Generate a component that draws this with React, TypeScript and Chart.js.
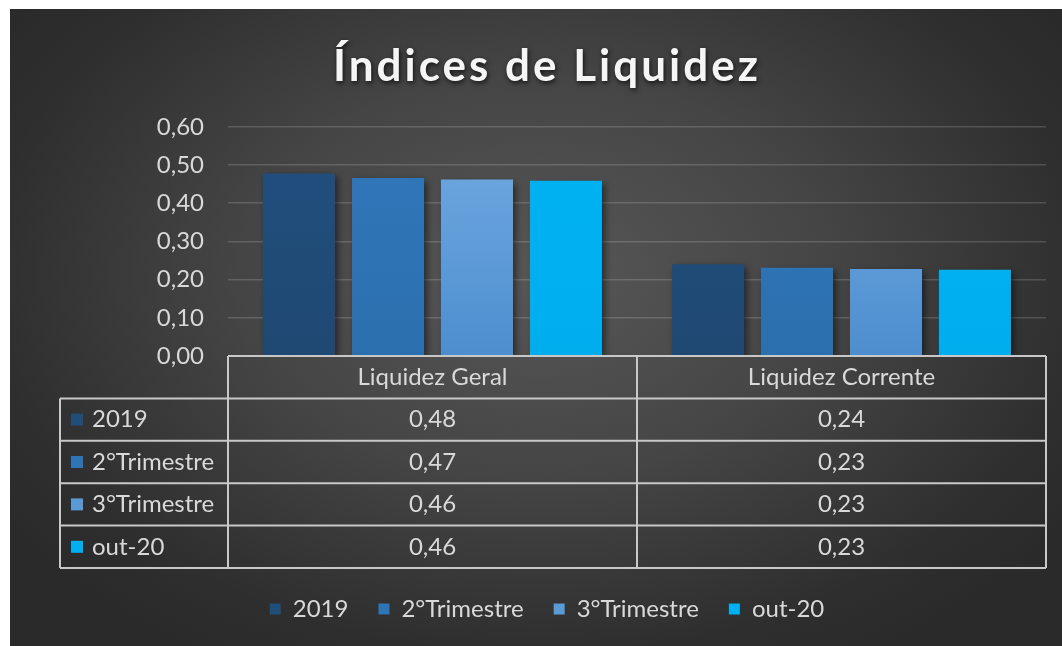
import React, { useEffect, useRef } from "react";
import { Chart, registerables } from "chart.js";

Chart.register(...registerables);

const categories = ["Liquidez Geral", "Liquidez Corrente"];
const seriesNames = ["2019", "2°Trimestre", "3°Trimestre", "out-20"];
const values2019 = [0.478, 0.24];
const valuesTri2 = [0.466, 0.231];
const valuesTri3 = [0.462, 0.228];
const valuesOut20 = [0.459, 0.226];
const yTickValues = [0, 0.1, 0.2, 0.3, 0.4, 0.5, 0.6];

const seriesValues = [values2019, valuesTri2, valuesTri3, valuesOut20];
const seriesTop = ["#21507f", "#3078bb", "#72aae2", "#00b2f2"];
const seriesBottom = ["#1f4872", "#2c6fae", "#4d8ecf", "#00aeee"];
const legendColors = ["#1f4e79", "#2e75b6", "#5b9bd5", "#00b0f0"];

const FONT = "Lato, 'Open Sans', sans-serif";
const TEXT = "#d9d9d9";
const fmt = (v: number) => v.toFixed(2).replace(".", ",");

const ROW_H = 42.4;
const TABLE_ROWS = 5;
const LEFT_COL_X = 50;
const PAD_LEFT = 38;
const CANVAS_W = 1052;
const CANVAS_H = 637;

const titleStylePlugin = {
  id: "titleStyle",
  beforeDraw(chart: any) {
    const block = chart.titleBlock;
    if (!block || block._styled) return;
    const orig = block.draw.bind(block);
    block.draw = (...args: any[]) => {
      const ctx = chart.ctx;
      ctx.save();
      (ctx as any).letterSpacing = "3px";
      ctx.shadowColor = "rgba(0,0,0,0.75)";
      ctx.shadowBlur = 5;
      ctx.shadowOffsetX = 1;
      ctx.shadowOffsetY = 2;
      orig(...args);
      ctx.restore();
    };
    block._styled = true;
  },
};

const tablePlugin = {
  id: "dataTable",
  beforeDatasetsDraw(chart: any) {
    const ctx = chart.ctx;
    ctx.save();
    ctx.shadowColor = "rgba(0,0,0,0.55)";
    ctx.shadowBlur = 7;
    ctx.shadowOffsetX = 3;
    ctx.shadowOffsetY = 3;
  },
  afterDatasetsDraw(chart: any) {
    chart.ctx.restore();
  },
  afterDraw(chart: any) {
    const ctx = chart.ctx;
    const xs = chart.scales.x;
    const area = chart.chartArea;
    const top = area.bottom;
    const left = area.left;
    const right = area.right;
    const mid = (xs.getPixelForValue(0) + xs.getPixelForValue(1)) / 2;
    const bottom = top + ROW_H * TABLE_ROWS;
    ctx.save();
    ctx.strokeStyle = "#c8c8c8";
    ctx.lineWidth = 2;
    ctx.beginPath();
    ctx.moveTo(left, top);
    ctx.lineTo(right, top);
    ctx.moveTo(left, top);
    ctx.lineTo(left, bottom);
    ctx.moveTo(right, top);
    ctx.lineTo(right, bottom);
    ctx.moveTo(mid, top);
    ctx.lineTo(mid, bottom);
    for (let r = 1; r <= TABLE_ROWS; r++) {
      const y = top + r * ROW_H;
      ctx.moveTo(LEFT_COL_X, y);
      ctx.lineTo(right, y);
    }
    ctx.moveTo(LEFT_COL_X, top + ROW_H);
    ctx.lineTo(LEFT_COL_X, bottom);
    ctx.stroke();

    ctx.font = `24px ${FONT}`;
    ctx.fillStyle = TEXT;
    ctx.textBaseline = "middle";
    ctx.textAlign = "center";
    categories.forEach((c, i) => {
      const cx = xs.getPixelForValue(i);
      ctx.fillText(c, cx, top + ROW_H / 2);
    });
    seriesNames.forEach((name, s) => {
      const cy = top + ROW_H * (s + 1) + ROW_H / 2;
      ctx.fillStyle = legendColors[s];
      ctx.fillRect(LEFT_COL_X + 11, cy - 6, 12, 12);
      ctx.fillStyle = TEXT;
      ctx.textAlign = "left";
      ctx.fillText(name, LEFT_COL_X + 32, cy);
      ctx.textAlign = "center";
      categories.forEach((_, i) => {
        ctx.fillText(fmt(seriesValues[s][i]), xs.getPixelForValue(i), cy);
      });
    });
    ctx.restore();
  },
};

export default function App() {
  const ref = useRef<HTMLCanvasElement>(null);
  useEffect(() => {
    if (!ref.current) return;
    const makeGrad = (s: number) => (c: any) => {
      const a = c.chart.chartArea;
      if (!a) return seriesTop[s];
      const g = c.chart.ctx.createLinearGradient(0, a.top, 0, a.bottom);
      g.addColorStop(0, seriesTop[s]);
      g.addColorStop(1, seriesBottom[s]);
      return g;
    };
    const chart = new Chart(ref.current, {
      type: "bar",
      data: {
        labels: categories,
        datasets: seriesNames.map((name, s) => ({
          label: name,
          data: seriesValues[s],
          backgroundColor: makeGrad(s),
          borderWidth: 0,
          categoryPercentage: 0.87,
          barPercentage: 0.81,
        })),
      },
      options: {
        responsive: false,
        animation: false,
        devicePixelRatio: 1,
        layout: { padding: { left: PAD_LEFT, right: CANVAS_W - 1036, top: 0, bottom: 15 } },
        plugins: {
          title: {
            display: true,
            text: "Índices de Liquidez",
            color: "#f5f5f5",
            font: { family: FONT, size: 44, weight: "bold" },
            padding: { top: 31, bottom: 34 },
          },
          legend: {
            position: "bottom",
            labels: {
              color: TEXT,
              font: { family: FONT, size: 24 },
              boxWidth: 11,
              boxHeight: 11,
              padding: 30,
              generateLabels: () =>
                seriesNames.map((n, i) => ({
                  text: n,
                  fillStyle: legendColors[i],
                  strokeStyle: legendColors[i],
                  lineWidth: 0,
                  fontColor: TEXT,
                  datasetIndex: i,
                  hidden: false,
                })),
            },
          },
          tooltip: { enabled: false },
        },
        scales: {
          x: {
            ticks: { display: false },
            grid: { display: false },
            border: { display: false },
            afterFit: (scale: any) => {
              scale.height = 211;
            },
          },
          y: {
            min: 0,
            max: 0.6,
            afterBuildTicks: (scale: any) => {
              scale.ticks = yTickValues.map((v) => ({ value: v }));
            },
            ticks: {
              color: TEXT,
              font: { family: FONT, size: 24 },
              padding: 24,
              callback: (v: any) => fmt(Number(v)),
            },
            grid: { color: "rgba(255,255,255,0.16)", lineWidth: 1.5, drawTicks: false },
            border: { display: false },
            afterFit: (scale: any) => {
              scale.width = 218 - PAD_LEFT;
            },
          },
        },
      },
      plugins: [titleStylePlugin, tablePlugin],
    });
    return () => chart.destroy();
  }, []);

  return (
    <div
      style={{
        position: "absolute",
        left: 0,
        top: 0,
        width: 1062,
        height: 646,
        background: "#fff",
        overflow: "hidden",
      }}
    >
      <div
        style={{
          position: "absolute",
          left: 10,
          top: 9,
          width: CANVAS_W,
          height: CANVAS_H,
          background:
            "radial-gradient(ellipse 62% 70% at 50% 42%, #575757 0%, #454545 45%, #2e2e2e 85%, #2a2a2a 100%)",
        }}
      >
        <canvas ref={ref} width={CANVAS_W} height={CANVAS_H} style={{ display: "block" }} />
      </div>
    </div>
  );
}
